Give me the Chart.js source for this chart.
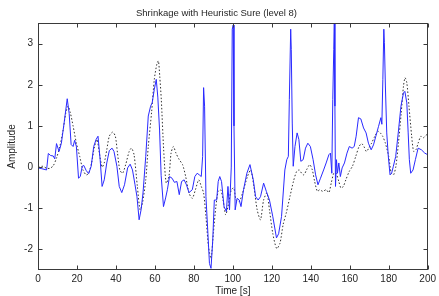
<!DOCTYPE html>
<html>
<head>
<meta charset="utf-8">
<script src="https://cdn.jsdelivr.net/npm/chart.js@4/dist/chart.umd.min.js"></script>
<style>
  html, body { margin: 0; padding: 0; background: #fff; }
  #wrap { width: 439px; height: 296px; }
</style>
</head>
<body>
<div id="wrap"><canvas id="c" width="439" height="296"></canvas></div>
<script>
const titleText = 'Shrinkage with Heuristic Sure (level 8)';
const xLabel = 'Time [s]';
const yLabel = 'Amplitude';
const xTicks = [0, 20, 40, 60, 80, 100, 120, 140, 160, 180, 200];
const yTicks = [-2, -1, 0, 1, 2, 3];

// Blue solid series (denoised signal)
const blueX = [0, 2, 4.4, 5.3, 6.5, 7.8, 8.6, 9.5, 10.8, 12, 13.4, 15, 16, 17, 18, 18.8, 19.7, 20.8, 21.7, 22.7, 23.5, 24.7, 26, 27.3, 28.6, 29.8, 30.8, 31.9, 32.9, 34, 35.3, 36.6, 38, 39, 40.5, 41.7, 43, 44.4, 46, 47.3, 48.5, 49.8, 50.8, 51.9, 52.9, 53.9, 55.3, 56.6, 57.8, 58.6, 59.7, 60.7, 61.5, 62.4, 63.2, 64.4, 65.5, 66.4, 67.5, 68.8, 70, 71.3, 72.5, 73.7, 75, 76.2, 77.5, 79.2, 80.5, 81.7, 82.8, 83.8, 84.5, 85, 85.5, 86.2, 87.2, 88, 88.8, 89.7, 90.5, 91.7, 92.5, 93.3, 94.2, 95.5, 96.7, 97.5, 98.3, 99.2, 99.7, 100.2, 100.6, 101.2, 102.2, 103.3, 104.2, 105.5, 107.2, 108.8, 110.5, 111.7, 113, 114.2, 115.8, 117.2, 118.8, 120.5, 122.4, 123.5, 125, 126.7, 127.7, 128.5, 129, 129.7, 130, 130.5, 131, 131.9, 133, 133.9, 134.9, 136.1, 137.3, 138.5, 139.8, 141.2, 142.5, 143.7, 145, 146.6, 147.9, 149.3, 150.1, 150.8, 151.3, 151.8, 152.1, 152.4, 152.7, 153.2, 153.7, 154.4, 155.2, 156.1, 157.3, 158.6, 159.8, 161.2, 162.3, 163.3, 164.5, 165.7, 167.1, 168.4, 169.6, 171, 172.2, 173.4, 174.8, 176, 176.5, 177, 177.5, 177.8, 178.3, 179, 179.8, 180.7, 181.5, 182.4, 183.6, 184.9, 186.3, 187.6, 188.3, 189.3, 190, 190.6, 191.3, 192.5, 193.7, 195.1, 196.8, 198.5, 200];
const blueY = [-0.02, -0.04, -0.07, 0.33, 0.28, 0.27, 0.2, 0.57, 0.38, 0.58, 1.07, 1.66, 1.3, 0.55, 0.5, 0.65, 0.5, -0.27, -0.23, 0.02, 0.04, -0.08, -0.16, 0.02, 0.5, 0.67, 0.75, 0.18, -0.47, -0.31, 0.1, 0.4, 0.46, 0.38, 0.02, -0.47, -0.62, -0.43, -0.02, 0.07, -0.07, -0.43, -0.72, -1.28, -1.04, -0.63, 0.26, 1.24, 1.48, 1.56, 1.89, 2.13, 1.7, 0.9, -0.2, -0.96, -0.75, -0.55, -0.23, -0.27, -0.37, -0.35, -0.67, -0.35, -0.31, -0.43, -0.62, -0.55, -0.23, -0.15, -0.19, -0.23, 0.26, 1.93, 1.48, -0.72, -1.61, -2.34, -2.46, -1.77, -0.8, -0.8, -0.35, -0.23, -0.35, -0.96, -1.08, -0.47, -1.04, 0, 3.35, 3.45, 1.0, -1.04, -0.76, -0.8, -0.96, -0.55, -0.15, 0.06, -0.31, -0.72, -0.8, -0.72, -0.39, -0.59, -0.8, -1.2, -1.72, -1.62, -1.2, -0.07, 0.18, 0.26, 1.64, 3.35, 2.86, 1.07, 0.02, 0.5, 0.83, 0.67, 0.14, 0.18, 0.46, 0.58, 0.5, 0.18, -0.19, -0.43, -0.27, -0.07, 0.1, 0.3, 0.34, -0.15, 1.64, 2.86, 3.6, 1.48, -0.47, 0.18, -0.15, 0.1, -0.23, -0.02, 0.1, 0.34, 0.5, 0.46, 0.5, 0.75, 1.2, 1.17, 0.95, 0.83, 0.58, 0.42, 0.54, 0.75, 0.99, 1.2, 1.04, 2.13, 3.35, 3.02, 1.97, 0.83, 0.26, -0.19, -0.15, 0.02, 0.26, 0.83, 1.48, 1.8, 1.84, 1.56, 0.83, 0.18, -0.15, -0.07, 0.18, 0.46, 0.42, 0.34, 0.3];

// Black dotted series (original signal)
const blackX = [0, 2.5, 4.4, 6.1, 7.8, 9.5, 11.2, 12.9, 14.2, 15.4, 16.6, 18, 19.7, 21.4, 23, 24.7, 26, 27.5, 29, 30.3, 31.5, 32.9, 34, 35.3, 36.6, 38.3, 39.7, 40.8, 42, 43.4, 45, 46.8, 48, 49.3, 51, 52.4, 53.6, 55.3, 56.6, 58.3, 59.7, 61, 61.8, 62.5, 63.3, 64.5, 65.8, 67.2, 68.3, 69.5, 70.8, 72.5, 74.2, 75.8, 77.5, 79.2, 80.8, 82.5, 83.8, 85, 86.2, 87.5, 88.8, 90, 91.3, 92.5, 93.8, 95, 96.3, 97.5, 99.2, 100.5, 101.7, 103.3, 105, 107.5, 109.2, 110.8, 112.5, 114.2, 115.8, 117.5, 118.8, 120.5, 122.5, 124.2, 125.8, 127.5, 129.4, 131.1, 132.7, 134.1, 135.3, 136.5, 137.8, 139.5, 140.8, 142, 143.4, 144.6, 146.2, 147.9, 149.3, 150.5, 151.8, 153, 154.4, 155.5, 156.7, 158, 159.7, 161.4, 163.1, 164.8, 166.1, 167.3, 168.5, 169.8, 171.2, 172.9, 174.5, 175.7, 176.9, 178.3, 180, 181.3, 182.5, 183.7, 185, 186.4, 187.6, 188.4, 189.3, 190.4, 191.8, 192.8, 194, 195.1, 196.5, 197.7, 198.9, 200];
const blackY = [0.0, 0.02, -0.03, -0.03, 0.03, 0.22, 0.5, 0.9, 1.3, 1.48, 1.32, 1.0, 0.58, 0.26, -0.06, -0.19, -0.15, 0.1, 0.5, 0.67, 0.34, 0, 0.1, 0.42, 0.75, 0.85, 0.75, 0.34, -0.07, -0.15, 0.06, 0.38, 0.46, 0.3, -0.47, -1.04, -0.88, -0.31, 0.5, 1.33, 2.13, 2.5, 2.58, 2.2, 1.63, 0.42, -0.39, -0.23, 0.34, 0.5, 0.34, 0.18, 0.06, -0.23, -0.63, -0.76, -0.55, -0.31, -0.47, -0.63, -1.2, -1.93, -2.22, -1.61, -0.96, -0.59, -0.55, -0.8, -1.16, -0.96, -0.55, -0.51, -0.8, -0.84, -0.63, -0.23, -0.07, -0.47, -1.04, -1.28, -0.8, -0.63, -1.04, -1.61, -1.98, -1.85, -1.4, -1.1, -0.7, -0.35, -0.11, -0.07, -0.15, -0.19, -0.07, 0.06, -0.07, -0.35, -0.59, -0.55, -0.59, -0.55, -0.62, -0.39, -0.15, -0.15, -0.35, -0.51, -0.47, -0.31, -0.11, 0.02, 0.26, 0.5, 0.57, 0.5, 0.38, 0.46, 0.58, 0.75, 0.87, 0.83, 0.75, 0.58, 0.26, -0.15, -0.19, 0.02, 0.58, 1.3, 1.97, 2.17, 2.05, 1.48, 0.75, 0.38, 0.42, 0.58, 0.75, 0.71, 0.76, 0.81];

const FONT = 'Liberation Sans, Arial, Helvetica, sans-serif';
const TEXT = '#262626';
const FRAME = '#3a3a3a';

const zip = (xs, ys) => xs.map((x, i) => ({ x: x, y: ys[i] }));

const frameAndTicks = {
  id: 'frameAndTicks',
  afterDatasetsDraw(chart) {
    const { ctx, chartArea: a, scales } = chart;
    const L = Math.round(a.left) + 0.5, R = Math.round(a.right) - 0.5;
    const T = Math.round(a.top) + 0.5, B = Math.round(a.bottom) - 0.5;
    const len = 4;
    ctx.save();
    ctx.strokeStyle = FRAME;
    ctx.lineWidth = 1;
    ctx.beginPath();
    xTicks.forEach(v => {
      const px = Math.round(scales.x.getPixelForValue(v)) + 0.5;
      ctx.moveTo(px, B); ctx.lineTo(px, B - len);
      ctx.moveTo(px, T); ctx.lineTo(px, T + len);
    });
    yTicks.forEach(v => {
      const py = Math.round(scales.y.getPixelForValue(v)) + 0.5;
      ctx.moveTo(L, py); ctx.lineTo(L + len, py);
      ctx.moveTo(R, py); ctx.lineTo(R - len, py);
    });
    ctx.stroke();
    ctx.strokeRect(L, T, R - L, B - T);
    ctx.restore();
  }
};

new Chart(document.getElementById('c'), {
  type: 'line',
  data: {
    datasets: [
      {
        label: 'denoised',
        data: zip(blueX, blueY),
        borderColor: '#2a2aff',
        borderWidth: 1,
        pointRadius: 0,
        tension: 0,
        fill: false
      },
      {
        label: 'original',
        data: zip(blackX, blackY),
        borderColor: '#333333',
        borderWidth: 1,
        borderDash: [1.5, 2],
        pointRadius: 0,
        tension: 0.25,
        fill: false
      }
    ]
  },
  options: {
    responsive: false,
    animation: false,
    devicePixelRatio: 1,
    events: [],
    layout: { padding: { left: 0, right: 6, top: 0, bottom: 0 } },
    plugins: {
      legend: { display: false },
      tooltip: { enabled: false },
      title: {
        display: true,
        text: titleText,
        color: TEXT,
        font: { family: FONT, size: 9.5, weight: 'normal', lineHeight: 1 },
        padding: { top: 9, bottom: 4.5 }
      }
    },
    scales: {
      x: {
        type: 'linear',
        min: 0,
        max: 200,
        afterBuildTicks: s => { s.ticks = xTicks.map(v => ({ value: v })); },
        afterFit: s => { s.height = 26; },
        ticks: { color: TEXT, font: { family: FONT, size: 10 }, padding: 3, maxRotation: 0, autoSkip: false },
        grid: { display: false, drawTicks: false },
        border: { display: false },
        title: {
          display: true, text: xLabel, color: TEXT,
          font: { family: FONT, size: 10, lineHeight: 1 },
          padding: { top: 0, bottom: 0 }
        }
      },
      y: {
        min: -2.5,
        max: 3.5,
        afterBuildTicks: s => { s.ticks = yTicks.map(v => ({ value: v })); },
        afterFit: s => { s.width = 38; },
        ticks: { color: TEXT, font: { family: FONT, size: 10 }, padding: 5, autoSkip: false },
        grid: { display: false, drawTicks: false },
        border: { display: false },
        title: {
          display: true, text: yLabel, color: TEXT,
          font: { family: FONT, size: 10, lineHeight: 1 },
          padding: { top: 7, bottom: 0 }
        }
      }
    }
  },
  plugins: [frameAndTicks]
});
</script>
</body>
</html>
